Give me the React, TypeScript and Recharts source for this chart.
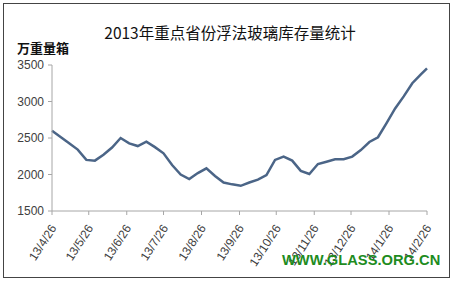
import React from "react";
import { LineChart, Line, XAxis, YAxis } from "recharts";

const dates = [
  "2013-04-26", "2013-05-03", "2013-05-10", "2013-05-17", "2013-05-24", "2013-05-31",
  "2013-06-07", "2013-06-14", "2013-06-21", "2013-06-28",
  "2013-07-05", "2013-07-12", "2013-07-19", "2013-07-26",
  "2013-08-02", "2013-08-09", "2013-08-16", "2013-08-23", "2013-08-30",
  "2013-09-06", "2013-09-13", "2013-09-20", "2013-09-27",
  "2013-10-04", "2013-10-11", "2013-10-18", "2013-10-25",
  "2013-11-01", "2013-11-08", "2013-11-15", "2013-11-22", "2013-11-29",
  "2013-12-06", "2013-12-13", "2013-12-20", "2013-12-27",
  "2014-01-03", "2014-01-10", "2014-01-17", "2014-01-24", "2014-01-31",
  "2014-02-07", "2014-02-14", "2014-02-21", "2014-02-26",
];

const inventory = [
  2600, 2515, 2427, 2341, 2200, 2190,
  2270, 2370, 2500, 2427,
  2390, 2450, 2375, 2290,
  2130, 2000, 1938, 2020, 2085,
  1980, 1890, 1865, 1845,
  1890, 1930, 1993, 2200,
  2245, 2190, 2050, 2007, 2144,
  2175, 2208, 2208, 2245,
  2335, 2445, 2510, 2705, 2905,
  3070, 3250, 3373, 3455,
];

const tickDates = [
  "2013-04-26", "2013-05-26", "2013-06-26", "2013-07-26", "2013-08-26", "2013-09-26",
  "2013-10-26", "2013-11-26", "2013-12-26", "2014-01-26", "2014-02-26",
];
const tickLabels = [
  "13/4/26", "13/5/26", "13/6/26", "13/7/26", "13/8/26", "13/9/26",
  "13/10/26", "13/11/26", "13/12/26", "14/1/26", "14/2/26",
];
const yTicks = [1500, 2000, 2500, 3000, 3500];

const title = "2013年重点省份浮法玻璃库存量统计";
const unitLabel = "万重量箱";
const watermark = "WWW.GLASS.ORG.CN";

const toTime = (d: string) => Date.parse(d + "T00:00:00Z");
const tickTimes = tickDates.map(toTime);
const labelByTime: Record<number, string> = {};
tickTimes.forEach((t, i) => (labelByTime[t] = tickLabels[i]));

const data = dates.map((d, i) => ({ t: toTime(d), v: inventory[i] }));

const XTick = (props: any) => {
  const { x, y, payload } = props;
  return (
    <g transform={`translate(${x + 5},${y + 11})`}>
      <text
        x={0}
        y={0}
        textAnchor="end"
        transform="rotate(-57)"
        fontSize={12}
        fill="#404040"
        fontFamily="Liberation Sans, Arial, sans-serif"
      >
        {labelByTime[payload.value]}
      </text>
    </g>
  );
};

export default function App() {
  return (
    <div
      style={{
        position: "absolute",
        left: 0,
        top: 0,
        width: 455,
        height: 283,
        background: "#fff",
        overflow: "hidden",
      }}
    >
      <div
        style={{
          position: "absolute",
          left: 3,
          top: 3,
          width: 447,
          height: 275,
          border: "1px solid #444",
          boxSizing: "border-box",
        }}
      />
      <div
        style={{
          position: "absolute",
          left: 0,
          width: 460,
          top: 22,
          textAlign: "center",
          fontSize: 15.5,
          fontFamily: "Noto Sans CJK SC, sans-serif",
          color: "#111",
          lineHeight: "20px",
        }}
      >
        {title}
      </div>
      <div
        style={{
          position: "absolute",
          left: 17,
          top: 39,
          fontSize: 13,
          fontWeight: "bold",
          fontFamily: "Noto Sans CJK SC, sans-serif",
          color: "#111",
          lineHeight: "18px",
        }}
      >
        {unitLabel}
      </div>
      <div style={{ position: "absolute", left: 0, top: 0 }}>
        <LineChart
          width={455}
          height={283}
          data={data}
          margin={{ top: 65, right: 28, left: 0, bottom: 0 }}
        >
          <XAxis
            dataKey="t"
            type="number"
            domain={[tickTimes[0], tickTimes[tickTimes.length - 1]]}
            ticks={tickTimes}
            interval={0}
            height={72}
            tickSize={4}
            tickLine={{ stroke: "#a6a6a6" }}
            axisLine={{ stroke: "#a6a6a6" }}
            tick={<XTick />}
          />
          <YAxis
            domain={[1500, 3500]}
            ticks={yTicks}
            width={52}
            tickSize={4}
            tickMargin={4}
            interval={0}
            tickLine={{ stroke: "#a6a6a6" }}
            axisLine={{ stroke: "#a6a6a6" }}
            tick={{ fontSize: 12, fill: "#404040", fontFamily: "Liberation Sans, Arial, sans-serif" }}
          />
          <Line
            type="linear"
            dataKey="v"
            stroke="#4b6587"
            strokeWidth={2.5}
            dot={false}
            isAnimationActive={false}
          />
        </LineChart>
      </div>
      <div
        style={{
          position: "absolute",
          left: 282,
          top: 251,
          fontSize: 14.7,
          fontWeight: "bold",
          fontFamily: "Liberation Sans, Arial, sans-serif",
          color: "#1e8c1e",
          lineHeight: "18px",
          whiteSpace: "nowrap",
        }}
      >
        {watermark}
      </div>
    </div>
  );
}
